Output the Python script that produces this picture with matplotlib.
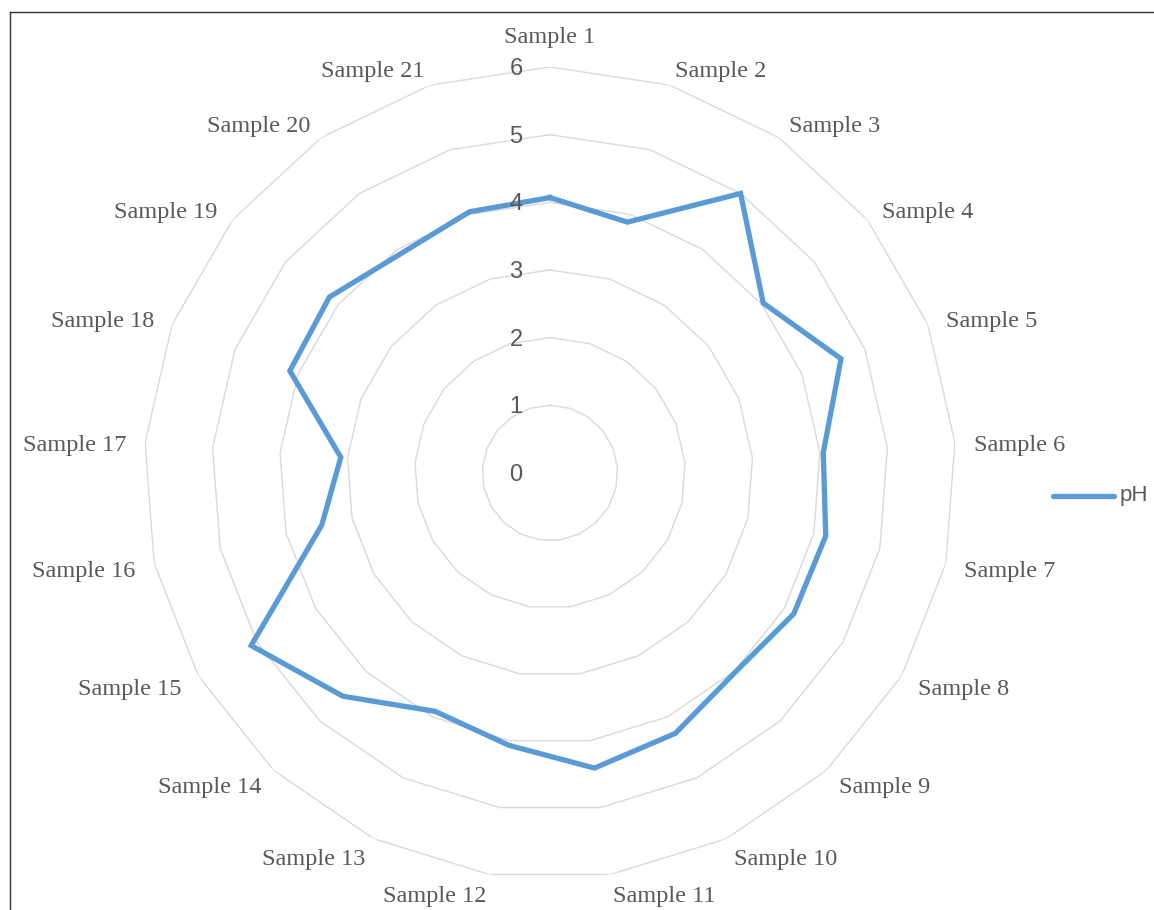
import numpy as np
import matplotlib
matplotlib.use("Agg")
import matplotlib.pyplot as plt
from matplotlib.lines import Line2D
import matplotlib.transforms as mtransforms

categories = [f"Sample {i}" for i in range(1, 22)]
ph_values = [4.07, 3.88, 5.00, 4.03, 4.62, 4.05, 4.18, 4.16, 4.02, 4.27, 4.41,
             4.07, 3.91, 4.50, 5.10, 3.46, 3.10, 4.13, 4.17, 3.92, 4.04]
radial_ticks = [0, 1, 2, 3, 4, 5, 6]
series_name = "pH"

W, H = 1154, 910
fig = plt.figure(figsize=(W / 100, H / 100), dpi=100)
fig.patch.set_facecolor("white")

cx, cy, R = 550, 473, 406
ax = fig.add_axes([(cx - R) / W, (H - cy - R) / H, 2 * R / W, 2 * R / H], projection="polar")
ax.set_theta_zero_location("N")
ax.set_theta_direction(-1)
ax.set_ylim(0, 6)
ax.grid(False)
ax.spines["polar"].set_visible(False)
ax.set_xticks([])
ax.set_yticks([])
ax.patch.set_alpha(0)

n = len(categories)
angles = np.linspace(0, 2 * np.pi, n, endpoint=False)
closed = np.append(angles, angles[0])

grid_color = "#D9D9D9"
for r in radial_ticks[1:]:
    ax.plot(closed, [r] * (n + 1), color=grid_color, lw=1.0, zorder=1)

vals = np.append(ph_values, ph_values[0])
line_color = "#5B9BD5"
ax.plot(closed, vals, color=line_color, lw=3.8, zorder=3, solid_joinstyle="miter")

text_color = "#595959"
serif = ["Liberation Serif", "DejaVu Serif"]
sans = ["Liberation Sans", "DejaVu Sans"]

# radial tick labels
for r in radial_ticks:
    off = mtransforms.offset_copy(ax.transData, fig=fig, x=-34, y=-2, units="dots")
    ax.text(0, r, str(r), transform=off, ha="center", va="center",
            fontsize=17, color=text_color, family=sans, zorder=4)

# category labels
label_r = 6 * (R + 19) / R
for a, lab in zip(angles, categories):
    s, c = np.sin(a), np.cos(a)
    if abs(s) < 0.01:
        ha, va, dy = "center", "bottom", 0
    elif s > 0:
        ha, va, dy = "left", "center", -(3.8 + 0.5 * c)
    else:
        ha, va, dy = "right", "center", -(3.8 + 0.5 * c)
    tr = mtransforms.offset_copy(ax.transData, fig=fig, x=0, y=dy, units="dots")
    ax.text(a, label_r, lab, transform=tr, ha=ha, va=va, fontsize=17.5,
            color=text_color, family=serif, clip_on=False)

# legend
ly = 1 - 496 / H
fig.add_artist(Line2D([1053 / W, 1114 / W], [ly, ly], color=line_color, lw=3.8,
                      solid_capstyle="round"))
fig.text(1120 / W, ly, series_name, ha="left", va="center", fontsize=16,
         color=text_color, family=sans)

# frame lines (top and left)
fig.add_artist(Line2D([10 / W, 10 / W], [0, 1 - 12 / H], color="#333333", lw=1.0))
fig.add_artist(Line2D([10 / W, 1], [1 - 12 / H, 1 - 12 / H], color="#333333", lw=1.0))

fig.savefig("out.png", dpi=100, facecolor="white")
